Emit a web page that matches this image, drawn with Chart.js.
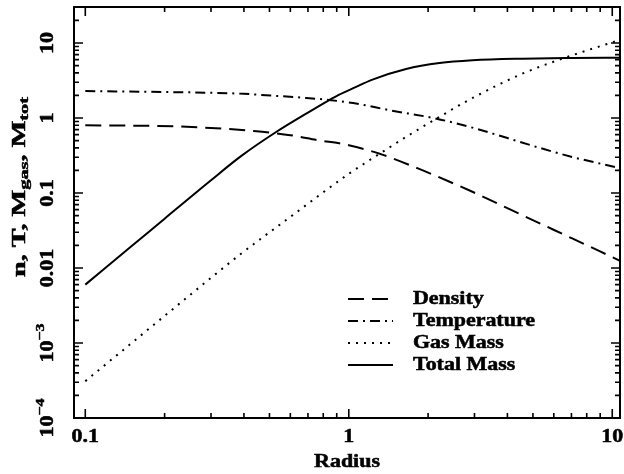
<!DOCTYPE html>
<html><head><meta charset="utf-8">
<script src="https://cdn.jsdelivr.net/npm/chart.js@4.4.1/dist/chart.umd.min.js"></script>
<style>html,body{margin:0;padding:0;background:#fff;overflow:hidden;}#wrap{width:624px;height:474px;}</style>
</head><body><div id="wrap"><canvas id="c" width="624" height="474"></canvas></div>
<script>
// ---- data ----
const densityRadius = [0.1, 0.15, 0.217, 0.335, 0.435, 0.52, 0.6, 0.78, 0.92, 1.01, 1.31, 1.91, 2.96, 4.57, 7.08, 10.7];
const densityValues = [0.80, 0.79, 0.774, 0.72, 0.67, 0.63, 0.59, 0.50, 0.46, 0.43, 0.334, 0.20, 0.103, 0.0504, 0.0246, 0.0125];

const temperatureRadius = [0.1, 0.2, 0.3, 0.4, 0.52, 0.69, 0.84, 1.04, 1.43, 2.15, 3.0, 4.0, 5.3, 7.1, 10.7];
const temperatureValues = [2.29, 2.22, 2.17, 2.10, 1.98, 1.85, 1.74, 1.58, 1.27, 0.98, 0.73, 0.54, 0.40, 0.30, 0.215];

const gasMassRadius = [0.1, 0.15, 0.2, 0.3, 0.39, 0.6, 1.0, 1.31, 1.65, 2.15, 2.95, 4.56, 6.65, 10.7];
const gasMassValues = [3.1e-4, 1.0e-3, 2.3e-3, 7.4e-3, 0.0155, 0.048, 0.18, 0.334, 0.56, 0.98, 1.85, 3.9, 6.4, 11.0];

const totalMassRadius = [0.1, 0.15, 0.2, 0.3, 0.39, 0.53, 0.7, 0.84, 0.92, 1.04, 1.23, 1.65, 2.21, 2.95, 4.56, 7.05, 10.7];
const totalMassValues = [0.006, 0.0196, 0.0455, 0.148, 0.31, 0.65, 1.18, 1.72, 2.05, 2.5, 3.25, 4.5, 5.4, 5.88, 6.18, 6.31, 6.37];

const seriesNames = ['Density', 'Temperature', 'Gas Mass', 'Total Mass'];
const xTickValues = [0.1, 1, 10];
const xTickLabels = ['0.1', '1', '10'];
const yTickValues = [1e-4, 1e-3, 0.01, 0.1, 1, 10];
const yTickLabels = [['10', '\u22124'], ['10', '\u22123'], ['0.01'], ['0.1'], ['1'], ['10']];
const xAxisTitle = 'Radius';
const yAxisTitleParts = [['n, T, M', false], ['gas', true], [', M', false], ['tot', true]];

const xRange = [0.0906, 10.7];
const yRange = [1e-4, 30.2];

// ---- styles ----
const FONT = '"Liberation Serif", "DejaVu Serif", serif';
const STRETCH = 1.22;
const dashes = [[16, 8], [10, 5, 2, 5], [2, 6], []];

function pts(xs, ys) { return xs.map((x, i) => ({ x: x, y: ys[i] })); }
const seriesData = [
  pts(densityRadius, densityValues),
  pts(temperatureRadius, temperatureValues),
  pts(gasMassRadius, gasMassValues),
  pts(totalMassRadius, totalMassValues)
];

const datasets = seriesData.map((d, i) => ({
  label: seriesNames[i],
  data: d,
  borderColor: '#000',
  borderWidth: 2,
  borderDash: dashes[i],
  pointRadius: 0,
  fill: false,
  cubicInterpolationMode: 'monotone',
  borderCapStyle: 'butt'
}));

function minorValues(min, max) {
  const out = [];
  for (let e = -5; e <= 2; e++) {
    for (let k = 1; k <= 9; k++) {
      const v = k * Math.pow(10, e);
      if (v >= min * 0.999 && v <= max * 1.001) out.push({ v: v, major: k === 1 });
    }
  }
  return out;
}

// draws stretched, slightly emboldened text
function sText(ctx, txt, x, y, size, align, rot, stretch) {
  ctx.save();
  ctx.translate(x, y);
  if (rot) ctx.rotate(rot);
  ctx.scale(stretch, 1);
  ctx.font = 'bold ' + size + 'px ' + FONT;
  ctx.textAlign = align;
  ctx.textBaseline = 'middle';
  ctx.fillText(txt, 0, 0);
  ctx.lineWidth = 0.5;
  ctx.strokeStyle = '#000';
  ctx.strokeText(txt, 0, 0);
  ctx.restore();
}
function tWidth(ctx, txt, size) {
  ctx.font = 'bold ' + size + 'px ' + FONT;
  return ctx.measureText(txt).width;
}

const framePlugin = {
  id: 'frame',
  afterDraw(chart) {
    const ctx = chart.ctx;
    const a = chart.chartArea;
    const xs = chart.scales.x, ys = chart.scales.y;
    ctx.save();
    ctx.strokeStyle = '#000';
    ctx.fillStyle = '#000';
    // ticks
    ctx.lineWidth = 1.6;
    minorValues(xs.min, xs.max).forEach(t => {
      const px = xs.getPixelForValue(t.v);
      const len = t.major ? 9 : 5;
      ctx.beginPath();
      ctx.moveTo(px, a.bottom); ctx.lineTo(px, a.bottom - len);
      ctx.moveTo(px, a.top); ctx.lineTo(px, a.top + len);
      ctx.stroke();
    });
    minorValues(ys.min, ys.max).forEach(t => {
      const py = ys.getPixelForValue(t.v);
      const len = t.major ? 9 : 5;
      ctx.beginPath();
      ctx.moveTo(a.left, py); ctx.lineTo(a.left + len, py);
      ctx.moveTo(a.right, py); ctx.lineTo(a.right - len, py);
      ctx.stroke();
    });
    // frame
    ctx.lineWidth = 2;
    ctx.strokeRect(a.left, a.top, a.right - a.left, a.bottom - a.top);

    // x tick labels
    xTickValues.forEach((v, i) => {
      sText(ctx, xTickLabels[i], xs.getPixelForValue(v), a.bottom + 19, 18, 'center', 0, STRETCH);
    });
    // x title
    sText(ctx, xAxisTitle, (a.left + a.right) / 2, a.bottom + 44, 18, 'center', 0, STRETCH);

    // y tick labels (rotated, reading upward)
    yTickValues.forEach((v, i) => {
      const py = ys.getPixelForValue(v);
      const parts = yTickLabels[i];
      const w0 = tWidth(ctx, parts[0], 18) * STRETCH;
      const w1 = parts[1] ? tWidth(ctx, parts[1], 13) * STRETCH : 0;
      const tot = w0 + w1;
      sText(ctx, parts[0], 48, py + tot / 2, 18, 'left', -Math.PI / 2, STRETCH);
      if (parts[1]) sText(ctx, parts[1], 48 - 7, py + tot / 2 - w0, 13, 'left', -Math.PI / 2, STRETCH);
    });

    // y title (rotated with subscripts), fitted to reference length
    const sizes = yAxisTitleParts.map(p => p[1] ? 13 : 18);
    const raw = yAxisTitleParts.map((p, i) => tWidth(ctx, p[0], sizes[i]));
    const rawTot = raw.reduce((s, w) => s + w, 0);
    const tStretch = 180 / rawTot;
    let pos = 187 + 90;
    yAxisTitleParts.forEach((p, i) => {
      sText(ctx, p[0], 20 + (p[1] ? 5 : 0), pos, sizes[i], 'left', -Math.PI / 2, tStretch);
      pos -= raw[i] * tStretch;
    });

    // legend
    const rows = [299, 321, 343, 365];
    seriesNames.forEach((name, i) => {
      ctx.save();
      ctx.lineWidth = 2;
      ctx.setLineDash(dashes[i]);
      ctx.beginPath();
      ctx.moveTo(348, rows[i]); ctx.lineTo(393, rows[i]);
      ctx.stroke();
      ctx.restore();
      sText(ctx, name, 413, rows[i], 18, 'left', 0, STRETCH);
    });
    ctx.restore();
  }
};

new Chart(document.getElementById('c'), {
  type: 'line',
  data: { datasets: datasets },
  options: {
    responsive: false,
    animation: false,
    devicePixelRatio: 1,
    layout: { padding: { top: 7, right: 4, left: 0, bottom: 0 } },
    plugins: { legend: { display: false }, tooltip: { enabled: false } },
    scales: {
      x: {
        type: 'logarithmic', min: xRange[0], max: xRange[1],
        ticks: { display: false }, grid: { display: false }, border: { display: false },
        afterFit(s) { s.height = 56; }
      },
      y: {
        type: 'logarithmic', min: yRange[0], max: yRange[1],
        ticks: { display: false }, grid: { display: false }, border: { display: false },
        afterFit(s) { s.width = 74; }
      }
    }
  },
  plugins: [framePlugin]
});
</script>
</body></html>
